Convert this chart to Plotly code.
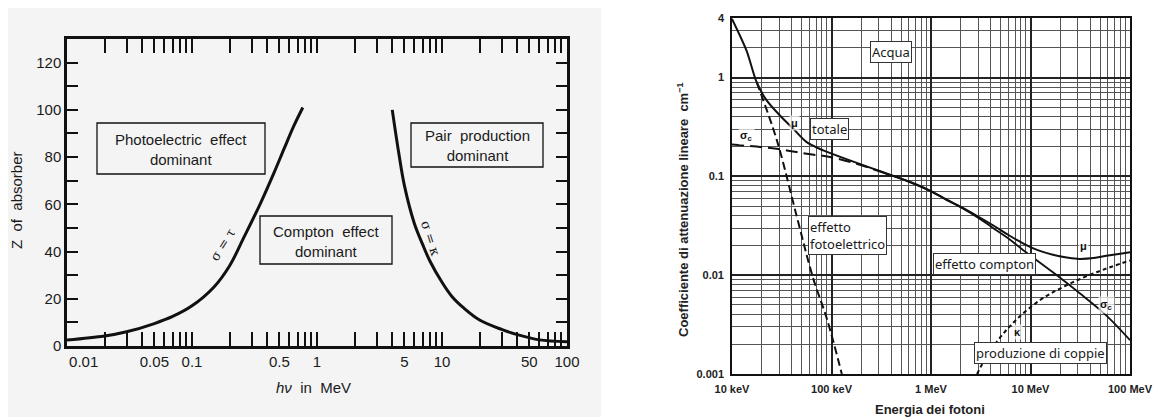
import plotly.graph_objects as go

# ---------------- Left panel data (Z of absorber vs photon energy) ----------------
tau_E = [0.01, 0.02, 0.03, 0.05, 0.07, 0.1, 0.15, 0.2, 0.26, 0.35, 0.45, 0.55, 0.65, 0.77]
tau_Z = [2.5, 4.2, 6.0, 9.5, 12.5, 17.0, 25.0, 34.0, 46.0, 60.0, 73.0, 84.0, 93.0, 101.0]
kap_E = [4.0, 4.5, 5.0, 6.0, 7.0, 8.0, 10.0, 12.0, 15.0, 20.0, 30.0, 40.0, 60.0, 100.0]
kap_Z = [100.0, 82.0, 68.0, 52.0, 43.0, 36.0, 27.0, 21.0, 16.0, 11.0, 7.0, 4.8, 2.6, 1.8]
left_xlabels = [0.01, 0.05, 0.1, 0.5, 1, 5, 10, 50, 100]
left_ylabels = [0, 20, 40, 60, 80, 100, 120]
region_labels = ["Photoelectric  effect<br>dominant", "Compton  effect<br>dominant", "Pair  production<br>dominant"]

# ---------------- Right panel data (water attenuation coefficients, cm^-1) ----------------
mu_E = [0.01, 0.014, 0.0177, 0.0223, 0.0303, 0.0413, 0.0563, 0.0827, 0.153, 0.33, 0.62, 1.0, 1.44, 2.0, 3.0,
        4.2, 6.0, 8.4, 12.0, 16.8, 24.0, 31.0, 45.0, 58.0, 80.0, 100.0]
mu_v = [3.92, 1.87, 0.896, 0.586, 0.413, 0.303, 0.222, 0.183, 0.145, 0.110, 0.0877, 0.071, 0.058, 0.049, 0.039,
        0.032, 0.0255, 0.021, 0.0178, 0.0161, 0.0150, 0.0146, 0.0150, 0.0157, 0.0165, 0.0171]
sc_E = [0.01, 0.0281, 0.0563, 0.0965, 0.178, 0.33, 0.62, 1.0, 1.44, 2.0, 3.0, 4.2, 6.0, 8.4, 16.8, 31.0, 58.0, 100.0]
sc_v = [0.21, 0.190, 0.169, 0.157, 0.134, 0.109, 0.087, 0.0705, 0.0575, 0.0485, 0.038, 0.030, 0.0235, 0.018,
        0.0107, 0.0066, 0.0039, 0.0022]
pe_E = [0.0177, 0.0283, 0.045, 0.065, 0.09, 0.127]
pe_v = [0.896, 0.23, 0.0385, 0.0095, 0.0036, 0.001]
pp_E = [2.9, 3.9, 6.7, 12.5, 23.0, 46.0, 100.0]
pp_v = [0.001, 0.0017, 0.0033, 0.0056, 0.0079, 0.0107, 0.0141]
right_xlabels = ["10 keV", "100 keV", "1 MeV", "10 MeV", "100 MeV"]
right_xvals = [0.01, 0.1, 1, 10, 100]
right_ylabels = ["0.001", "0.01", "0.1", "1", "4"]
right_yvals = [0.001, 0.01, 0.1, 1, 4]

W, H = 1168, 420
OFF = 8  # page body margin of the browser
def px(x):
    return (x - OFF) / W
def py(y):
    return 1 - (y - OFF) / H

fig = go.Figure()
BLACK = "#111111"

fig.add_trace(go.Scatter(x=tau_E, y=tau_Z, mode="lines", line=dict(color=BLACK, width=3, shape="spline"),
                         xaxis="x", yaxis="y", showlegend=False))
fig.add_trace(go.Scatter(x=kap_E, y=kap_Z, mode="lines", line=dict(color=BLACK, width=3, shape="spline"),
                         xaxis="x", yaxis="y", showlegend=False))

# right panel curves
fig.add_trace(go.Scatter(x=mu_E, y=mu_v, mode="lines", line=dict(color=BLACK, width=2, shape="spline", smoothing=0.8),
                         xaxis="x2", yaxis="y2", showlegend=False))
n_split = 5
fig.add_trace(go.Scatter(x=sc_E[:n_split + 1], y=sc_v[:n_split + 1], mode="lines",
                         line=dict(color=BLACK, width=2, dash="12px,6px", shape="spline"),
                         xaxis="x2", yaxis="y2", showlegend=False))
fig.add_trace(go.Scatter(x=sc_E[n_split:], y=sc_v[n_split:], mode="lines",
                         line=dict(color=BLACK, width=1.8, shape="spline"),
                         xaxis="x2", yaxis="y2", showlegend=False))
fig.add_trace(go.Scatter(x=pe_E, y=pe_v, mode="lines", line=dict(color=BLACK, width=2, dash="8px,4px", shape="spline"),
                         xaxis="x2", yaxis="y2", showlegend=False))
fig.add_trace(go.Scatter(x=pp_E, y=pp_v, mode="lines", line=dict(color=BLACK, width=2, dash="4px,3px", shape="spline"),
                         xaxis="x2", yaxis="y2", showlegend=False))

# tick positions for log axes
all_left = []
for n in range(-2, 2):
    for k in range(1, 10):
        all_left.append(round(k * 10 ** n, 6))
all_left.append(100)
left_text = []
for v in all_left:
    lab = ""
    for L in left_xlabels:
        if abs(v - L) < 1e-9:
            lab = str(L)
    left_text.append(lab)
# the original prints "0.01" slightly to the right of the axis corner
left_text[0] = "\u2007\u2007\u2007\u2007" + left_text[0]

yvals_left = list(range(0, 131, 10))
ytext_left = [str(v) if v in left_ylabels else "" for v in yvals_left]

minor_right_x = []
for n in range(-2, 2):
    for k in range(2, 10):
        minor_right_x.append(round(k * 10 ** n, 6))
minor_right_y = []
for n in range(-3, 1):
    for k in range(2, 10):
        v = round(k * 10 ** n, 6)
        if v < 4:
            minor_right_y.append(v)
minor_right_y += [2, 3]

FONT = "Liberation Sans, Arial, sans-serif"

fig.update_layout(
    width=W, height=H,
    margin=dict(l=0, r=0, t=0, b=0),
    paper_bgcolor="white",
    plot_bgcolor="rgba(0,0,0,0)",
    font=dict(family=FONT, color="#1a1a1a"),
    xaxis=dict(domain=[px(67), px(567)], type="log", range=[-2, 2], automargin=False,
               tickmode="array", tickvals=all_left, ticktext=left_text,
               ticks="inside", ticklen=14, tickwidth=1.5, tickcolor=BLACK,
               showline=True, linecolor=BLACK, linewidth=2.5, mirror="ticks",
               showgrid=False, zeroline=False, tickfont=dict(size=15, color="#1a1a1a")),
    yaxis=dict(domain=[py(346), py(39)], range=[0, 130], automargin=False,
               tickmode="array", tickvals=yvals_left, ticktext=ytext_left,
               ticks="inside", ticklen=11, tickwidth=1.5, tickcolor=BLACK,
               showline=True, linecolor=BLACK, linewidth=2.5, mirror="ticks",
               showgrid=False, zeroline=False, tickfont=dict(size=15, color="#1a1a1a")),
    xaxis2=dict(domain=[px(732), px(1130)], type="log", range=[-2, 2], anchor="y2", automargin=False,
                tickmode="array", tickvals=right_xvals, ticktext=right_xlabels,
                ticks="", showline=True, linecolor=BLACK, linewidth=1.6, mirror=True,
                showgrid=True, gridcolor="#222222", gridwidth=1.6, zeroline=False,
                minor=dict(tickvals=minor_right_x, showgrid=True, gridcolor="#555555", gridwidth=1),
                tickfont=dict(size=11, color="#222222", family="Liberation Sans, Arial", weight="bold"),
                ticklabelstandoff=4),
    yaxis2=dict(domain=[py(374), py(18)], type="log", range=[-3, 0.60206], anchor="x2", automargin=False,
                tickmode="array", tickvals=right_yvals, ticktext=right_ylabels,
                ticks="", showline=True, linecolor=BLACK, linewidth=1.6, mirror=True,
                showgrid=True, gridcolor="#222222", gridwidth=1.6, zeroline=False,
                minor=dict(tickvals=minor_right_y, showgrid=True, gridcolor="#555555", gridwidth=1),
                tickfont=dict(size=11, color="#222222", family="Liberation Sans, Arial", weight="bold"),
                ticklabelstandoff=4),
)

shapes = []
# grey scanned background of the left figure
shapes.append(dict(type="rect", xref="paper", yref="paper", x0=px(8), x1=px(601), y0=py(417), y1=py(8),
                   fillcolor="#f4f4f4", line=dict(width=0), layer="below"))
# region label boxes (left)
left_boxes = [(97, 123, 265, 174), (260, 216, 392, 264), (411, 123, 543, 167)]
for (x0, y0, x1, y1) in left_boxes:
    shapes.append(dict(type="rect", xref="paper", yref="paper", x0=px(x0), x1=px(x1), y0=py(y1), y1=py(y0),
                       line=dict(color=BLACK, width=1.3), fillcolor="#f4f4f4", layer="above"))
fig.update_layout(shapes=shapes)

ann = []
def A(x, y, text, **kw):
    d = dict(xref="paper", yref="paper", x=px(x), y=py(y), text=text, showarrow=False,
             xanchor="center", yanchor="middle")
    d.update(kw)
    ann.append(d)

for (x0, y0, x1, y1), txt in zip(left_boxes, region_labels):
    A((x0 + x1) / 2, (y0 + y1) / 2 + 1, txt, font=dict(size=15, color="#1a1a1a", family=FONT), align="center")
# curve labels (left)
A(222, 245, "σ = τ", textangle=-58, font=dict(size=13, color="#1a1a1a", family="DejaVu Serif"))
A(431, 238, "σ = κ", textangle=72, font=dict(size=13, color="#1a1a1a", family="DejaVu Serif"))
# axis titles (left)
A(17, 200, "Z  of  absorber", textangle=-90, font=dict(size=15, color="#1a1a1a", family=FONT))
A(313, 387, "<i>hν</i>  in  MeV", font=dict(size=15, color="#1a1a1a", family=FONT))
# axis titles (right)
A(683, 210, "<b>Coefficiente di attenuazione lineare  cm<sup>−1</sup></b>", textangle=-90,
  font=dict(size=13, color="#222222", family=FONT))
A(930, 409, "<b>Energia dei fotoni</b>", font=dict(size=13, color="#222222", family=FONT))
# small curve symbols from the scan (right)
for (x, y, t) in [(795, 123, "μ"), (746, 136, "σ<sub>c</sub>"), (1083, 246, "μ"), (1106, 305, "σ<sub>c</sub>"), (1017, 332, "κ")]:
    A(x, y, "<b>" + t + "</b>", font=dict(size=11, color="#111111", family=FONT), bgcolor="rgba(255,255,255,0.7)")
# boxed Italian labels (right)
right_boxes = [("Acqua", 891, 52), ("totale", 829, 129), ("effetto<br>fotoelettrico", 847, 236),
               ("effetto compton", 984, 264), ("produzione di coppie", 1040, 353)]
for txt, x, y in right_boxes:
    A(x, y, txt, align="left", font=dict(size=13, color="#1a1a1a", family="Noto Sans, Open Sans, sans-serif"),
      bgcolor="white", bordercolor="#333333", borderwidth=1, borderpad=1)
fig.update_layout(annotations=ann)

fig.write_html("out.html")
